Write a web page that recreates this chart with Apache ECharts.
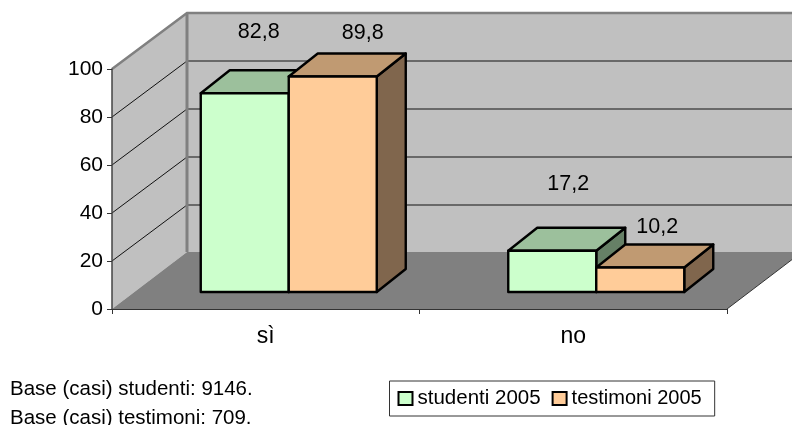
<!DOCTYPE html>
<html>
<head>
<meta charset="utf-8">
<style>html,body{margin:0;padding:0;background:#fff}#c{width:792px;height:425px}</style>
<script src="https://cdn.jsdelivr.net/npm/echarts@6/dist/echarts.min.js"></script>
</head>
<body>
<div id="c"></div>
<script>
const categories = ['sì', 'no'];
const studenti = [82.8, 17.2];
const testimoni = [89.8, 10.2];
const yTicks = [0, 20, 40, 60, 80, 100];
const seriesNames = ['studenti 2005', 'testimoni 2005'];
const notes = ['Base (casi) studenti: 9146.', 'Base (casi) testimoni: 709.'];

const FONT = '"Liberation Sans", Arial, sans-serif';
const FONT_SIZE = 20.5;
const WALL_DEPTH = [75, -56];
const FLOOR_RISE = 1;
const BAR_BASE = [23, -17];
const BAR_DEPTH = [29, -23];
const BAR_FRACTION = 88 / 307.5;
const labelNudges = [[[14, -61], [16, -67]], [[30, -43.5], [17, -40.5]]];
const palettes = [
  { front: '#CCFFCC', top: '#9CC09C', side: '#668066' },
  { front: '#FFCC99', top: '#C09A72', side: '#80664D' }
];

function decimal(v) { return v.toFixed(1).replace('.', ','); }

function renderWall(params, api) {
  const g = params.coordSys;
  const [dx, dy] = WALL_DEPTH;
  const v = api.value(1);
  const y = api.coord([0, v])[1];
  const l = g.x, r = g.x + g.width, b = g.y + g.height, t = g.y;
  const children = [];
  const gray = '#808080';
  if (v === 0) {
    const fy = b + dy - FLOOR_RISE;
    children.push({ type: 'polygon', shape: { points: [[l + dx, t + dy], [r + dx, t + dy], [r + dx, fy], [l + dx, fy]] }, style: { fill: '#C0C0C0' } });
    children.push({ type: 'polygon', shape: { points: [[l, t], [l + dx, t + dy], [l + dx, fy], [l, b]] }, style: { fill: '#C0C0C0' } });
    children.push({ type: 'polygon', shape: { points: [[l, b], [r, b], [r + dx, fy], [l + dx, fy]] }, style: { fill: '#808080' } });
    children.push({ type: 'polyline', shape: { points: [[r, b], [r + dx, fy]] }, style: { stroke: '#333', lineWidth: 1, fill: 'none' } });
  } else if (v === 100) {
    children.push({ type: 'polyline', shape: { points: [[l, t], [l + dx, t + dy], [r + dx, t + dy]] }, style: { stroke: gray, lineWidth: 2.5, fill: 'none' } });
    children.push({ type: 'polyline', shape: { points: [[l + dx, t + dy], [l + dx, b + dy - FLOOR_RISE]] }, style: { stroke: gray, lineWidth: 3, fill: 'none' } });
  } else {
    children.push({ type: 'polyline', shape: { points: [[l, y], [l + dx, y + dy]] }, style: { stroke: '#111', lineWidth: 1, fill: 'none' } });
    children.push({ type: 'polyline', shape: { points: [[l + dx, y + dy], [r + dx, y + dy]] }, style: { stroke: '#4d4d4d', lineWidth: 1.5, fill: 'none' } });
  }
  return { type: 'group', children };
}

function barRenderer(seriesIndex) {
  return function (params, api) {
    const cat = api.value(0);
    const val = api.value(1);
    const band = api.size([1, 0])[0];
    const w = band * BAR_FRACTION;
    const center = api.coord([cat, 0])[0] + BAR_BASE[0];
    const x0 = center + (seriesIndex - 1) * w;
    const x1 = x0 + w;
    const yb = api.coord([cat, 0])[1] + BAR_BASE[1];
    const yt = api.coord([cat, val])[1] + BAR_BASE[1];
    const [dx, dy] = BAR_DEPTH;
    const p = palettes[seriesIndex];
    const st = fill => ({ fill, stroke: '#000', lineWidth: 2.4, lineJoin: 'round' });
    const n = labelNudges[seriesIndex][params.dataIndex];
    return {
      type: 'group',
      children: [
        { type: 'polygon', shape: { points: [[x1, yb], [x1 + dx, yb + dy], [x1 + dx, yt + dy], [x1, yt]] }, style: st(p.side) },
        { type: 'polygon', shape: { points: [[x0, yt], [x1, yt], [x1 + dx, yt + dy], [x0 + dx, yt + dy]] }, style: st(p.top) },
        { type: 'polygon', shape: { points: [[x0, yb], [x1, yb], [x1, yt], [x0, yt]] }, style: st(p.front) },
        { type: 'text', x: (x0 + x1) / 2 + n[0], y: yt + n[1], z2: 50, style: { text: decimal(val), fill: '#000', font: '21.5px ' + FONT, textAlign: 'center', textVerticalAlign: 'middle' } }
      ]
    };
  };
}

const chart = echarts.init(document.getElementById('c'), null, { renderer: 'canvas' });
chart.setOption({
  animation: false,
  backgroundColor: '#fff',
  grid: { left: 112, right: 65, top: 69, bottom: 116, containLabel: false },
  xAxis: {
    type: 'category', data: categories, z: 5,
    axisLine: { lineStyle: { color: '#333', width: 1 } },
    axisTick: { show: true, length: 5, lineStyle: { color: '#333' } },
    axisLabel: { color: '#000', fontFamily: 'Liberation Sans', fontSize: 23, margin: 16 },
    splitLine: { show: false }
  },
  yAxis: {
    type: 'value', min: 0, max: 100, interval: 20, z: 5,
    axisLine: { show: true, lineStyle: { color: '#444', width: 1.5 } },
    axisTick: { show: true, length: 5, lineStyle: { color: '#333' } },
    axisLabel: { color: '#000', fontFamily: 'Liberation Sans', fontSize: 21, margin: 9 },
    splitLine: { show: false }
  },
  legend: {
    left: 389.5, top: 381, orient: 'horizontal', padding: [7, 13, 7, 8], itemGap: 11,
    itemWidth: 14, itemHeight: 13, backgroundColor: '#fff', borderColor: '#333', borderWidth: 1,
    selectedMode: false,
    textStyle: { color: '#000', fontFamily: 'Liberation Sans', fontSize: FONT_SIZE },
    data: seriesNames.map((name, i) => ({ name, icon: 'rect', textStyle: { fontSize: i ? 20 : FONT_SIZE }, itemStyle: { color: palettes[i].front, borderColor: '#000', borderWidth: 2 } }))
  },
  graphic: notes.map((text, i) => ({
    type: 'text', left: 10, top: 379 + i * 28.5,
    style: { text, fill: '#000', font: FONT_SIZE + 'px ' + FONT }
  })),
  series: [
    { type: 'custom', name: 'pareti', z: 1, silent: true, renderItem: renderWall, encode: { x: 0, y: 1 }, data: yTicks.map(v => [0, v]) },
    { type: 'custom', name: seriesNames[0], z: 2, renderItem: barRenderer(0), encode: { x: 0, y: 1 }, itemStyle: { color: palettes[0].front }, data: studenti.map((v, i) => [i, v]) },
    { type: 'custom', name: seriesNames[1], z: 3, renderItem: barRenderer(1), encode: { x: 0, y: 1 }, itemStyle: { color: palettes[1].front }, data: testimoni.map((v, i) => [i, v]) }
  ]
});
</script>
</body>
</html>
